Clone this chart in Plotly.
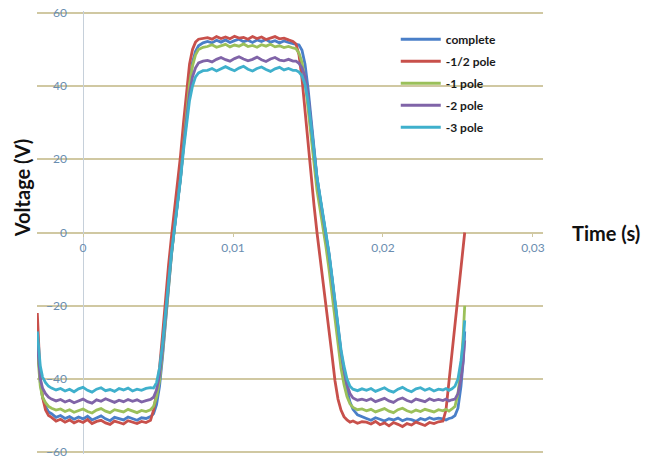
import plotly.graph_objects as go

# ---- data (time in ms, voltage in V) ----
TIME_MS = [
    -3.05, -2.95, -2.85, -2.7, -2.5, -2.3, -2.1, -1.8, -1.5, -1.2, -0.9, -0.6, -0.3, 0.0, 0.3,
    0.6, 0.9, 1.2, 1.5, 1.8, 2.1, 2.4, 2.7, 3.0, 3.3, 3.6, 3.9, 4.2, 4.5,
    4.7, 4.9, 5.1, 5.3, 5.5, 5.7, 5.9, 6.1, 6.3, 6.5, 6.7, 6.9, 7.1, 7.3, 7.5, 7.7, 8.0,
    8.3, 8.6, 8.9, 9.2, 9.5, 9.8, 10.1, 10.4, 10.7, 11.0, 11.3, 11.6, 11.9, 12.2, 12.5, 12.8,
    13.1, 13.4, 13.7, 14.0,
    14.2, 14.4, 14.6, 14.8, 15.0, 15.2, 15.4, 15.6, 15.8, 16.0, 16.2, 16.4, 16.6, 16.8, 17.0,
    17.2, 17.4, 17.6, 17.8, 18.0, 18.3, 18.6,
    18.9, 19.2, 19.5, 19.8, 20.1, 20.4, 20.7, 21.0, 21.3, 21.6, 21.9, 22.2, 22.5, 22.8, 23.1,
    23.4, 23.7,
    24.0, 24.2, 24.4, 24.6, 24.8, 25.0, 25.2, 25.35, 25.45,
]

COMPLETE = [
    -28, -36, -41, -45, -47.5, -49, -49.5, -50.5, -50, -50.8, -50.3, -51, -50.4, -50.9, -50.2,
    -51.2, -50.6, -50.1, -50.9, -51.4, -50.5, -50.8, -51.2, -50.4, -50.9, -51.3, -50.6, -50.8, -50.3,
    -49.5, -47, -42, -34, -24, -15, -6, 1.5, 8, 15, 24, 33, 41, 46.5, 49.5, 51, 51.8,
    52.2, 51.8, 52.5, 52.0, 52.6, 51.9, 52.4, 52.8, 52.1, 52.5, 51.9, 52.6, 52.2, 52.7, 52.0, 52.4,
    51.8, 52.3, 51.9, 51.6,
    51.6, 51.2, 49.8, 46, 39.5, 31, 22, 15, 9.5, 4.5, -0.5, -6, -12.5, -19.5, -26.5,
    -33, -38.5, -43, -46.3, -48.3, -49.8, -50.4,
    -50.8, -51.3, -50.6, -51.0, -51.5, -50.9, -51.2, -50.7, -51.4, -50.9, -51.1, -51.6, -50.8, -51.2, -50.6,
    -51.0, -50.7,
    -50.9, -51.2, -50.8, -50.6, -50.0, -48, -42, -35, -27,
]

HALF_POLE = [
    -22, -33, -40, -45, -48.5, -50, -50.5, -51.5, -51, -51.8, -51.2, -52, -51.4, -51.9, -51.1,
    -52.2, -51.6, -51.3, -52, -52.4, -51.5, -51.9, -52.3, -51.4, -51.8, -52.2, -51.6, -51.9, -51.3,
    -48.5, -44, -37, -28, -18, -9, -1, 6, 13, 21, 30, 39, 46, 50, 52, 52.8, 53,
    53.2, 52.8, 53.5, 53.0, 53.4, 52.9, 53.6, 53.1, 53.3, 52.8, 53.5, 53.0, 53.4, 52.7, 53.2, 53.5,
    52.9, 53.1, 52.6, 52.2,
    51.5, 48.5, 42, 33, 23.5, 15, 7.5, 0, -6.5, -13, -19, -26, -33.5, -40.5, -45.5,
    -48.5, -50.3, -51.2, -51.8, -51.5, -52.1, -51.7,
    -51.8, -52.3, -51.6, -52.5, -52.0, -52.8, -51.9, -52.4, -53.0, -52.2, -52.6, -51.8, -52.3, -52.7, -51.9,
    -52.2, -51.7,
    -51.5, -48.5, -40.5, -33, -25.5, -18, -10.5, -4.5, 0,
]

ONE_POLE = [
    -32, -38, -42, -45, -46.5, -47.5, -48, -48.5, -48.2, -48.9, -48.4, -49.1, -48.6, -48.2, -48.9,
    -49.3, -48.5, -48.1, -48.8, -49.2, -48.4, -48.7, -49.0, -48.3, -48.8, -49.2, -48.6, -48.9, -48.4,
    -47.5, -45, -40.5, -33, -23.5, -14.5, -6, 1.5, 8, 15, 24, 33, 40.5, 45.5, 48.5, 50, 50.6,
    50.8, 51.3, 50.6, 51.0, 51.4, 50.7, 51.2, 50.9, 51.5, 50.8, 51.1, 50.6, 51.3, 50.9, 51.4, 50.7,
    51.0, 50.5, 50.8, 50.4,
    50.2, 49, 46.5, 41.5, 34, 25.5, 17.5, 11.5, 6.5, 1.5, -4, -10, -17, -24, -31,
    -37, -41.5, -44.8, -46.8, -47.8, -48.4, -48.2,
    -48.7, -48.3, -49.0, -48.5, -48.1, -48.8, -49.2, -48.4, -48.0, -48.7, -49.1, -48.5, -48.9, -48.3, -48.6,
    -49.0, -48.4,
    -48.7, -48.3, -48.8, -48.2, -47.5, -44, -37, -28, -20,
]

TWO_POLE = [
    -30, -36, -40, -42.5, -44, -45, -45.5, -46, -45.6, -46.3, -45.8, -46.5, -45.9, -45.5, -46.2,
    -46.6, -45.7, -46.1, -45.4, -46.0, -46.4, -45.8, -46.2, -45.6, -46.1, -45.7, -46.3, -45.9, -45.6,
    -45, -43, -39, -32, -23, -14, -5.5, 1.5, 8, 15, 23.5, 31.5, 38, 42.5, 45, 46.3, 46.8,
    47.0, 46.6, 47.3, 47.8, 47.2, 46.8, 47.5, 48.0, 47.4, 46.9, 47.3, 47.9, 47.2, 46.7, 47.4, 47.8,
    47.1, 46.9, 47.3, 46.8,
    46.8, 46.2, 45, 42.5, 37.5, 30, 21.5, 14.8, 9.5, 4.5, -0.5, -6, -12.5, -19.5, -26.5,
    -32.5, -37.5, -41.5, -44, -45.2, -45.8, -45.5,
    -45.9, -45.4, -46.2, -45.7, -45.3, -46.0, -46.4, -45.6, -45.2, -45.9, -46.3, -45.5, -45.8, -46.2, -45.4,
    -45.9, -45.6,
    -45.9, -45.5, -46.0, -45.7, -45.5, -44, -40, -35, -29.5,
]

THREE_POLE = [
    -27, -33, -36.5, -39.5, -41, -42, -42.5, -43, -42.6, -43.3, -42.8, -43.5, -42.7, -42.3, -43.1,
    -43.6, -42.8, -42.4, -43.2, -42.9, -43.4, -42.6, -43.0, -42.5, -43.3, -42.8, -43.1, -42.6, -42.4,
    -42.5, -41, -37, -30.5, -22, -13.5, -5.5, 1, 7.5, 14.5, 22.5, 30, 36, 40, 42.5, 43.6, 44.2,
    44.3, 44.8, 44.1, 44.6, 45.3, 44.7, 44.2, 44.9, 45.4, 44.6, 44.1, 44.8, 45.2, 44.5, 44.0, 44.7,
    45.1, 44.4, 44.8, 44.3,
    44.3, 43.8, 42.8, 40.5, 36, 29.5, 21.5, 15, 10, 5, 0, -5.5, -12, -19, -26,
    -32, -36.5, -40, -42, -42.8, -43.2, -42.7,
    -43.1, -42.6, -43.4, -42.9, -42.4, -43.2, -43.6, -42.8, -42.3, -43.0, -43.5, -42.7, -42.4, -43.1, -42.6,
    -43.3, -42.8,
    -43.0, -42.6, -43.1, -42.7, -42, -40, -35, -30, -24,
]

SERIES_NAMES = ["complete", "-1/2 pole", "-1 pole", "-2 pole", "-3 pole"]
SERIES_VALUES = [COMPLETE, HALF_POLE, ONE_POLE, TWO_POLE, THREE_POLE]
SERIES_COLORS = ["#4a7fc8", "#c8504b", "#9bc05a", "#8064a8", "#3fb0cc"]

Y_TICKS = [-60, -40, -20, 0, 20, 40, 60]
X_TICKS = [0, 0.01, 0.02, 0.03]

for v in SERIES_VALUES:
    assert len(v) == len(TIME_MS), (len(v), len(TIME_MS))

TIME_S = [t / 1000.0 for t in TIME_MS]

fig = go.Figure()
for name, vals, col in zip(SERIES_NAMES, SERIES_VALUES, SERIES_COLORS):
    fig.add_trace(go.Scatter(
        x=TIME_S, y=vals, name=name, mode="lines",
        line=dict(color=col, width=2.8),
        legendgroup=name,
    ))

tick_font = dict(family="Lato, Open Sans, sans-serif", size=12, color="#6a8db0")

fig.update_layout(
    width=645, height=461,
    margin=dict(l=37, r=102, t=11, b=7, autoexpand=False),
    paper_bgcolor="white", plot_bgcolor="white",
    separators=",.",
    showlegend=True,
    legend=dict(
        x=0.709, y=0.969, xanchor="left", yanchor="top",
        font=dict(family="Lato, sans-serif", size=12, color="#1a1a1a", weight="bold"),
        bgcolor="rgba(0,0,0,0)",
        traceorder="grouped",
        tracegroupgap=3,
        itemwidth=40,
    ),
    xaxis=dict(
        range=[-0.00307, 0.03067],
        tickvals=X_TICKS,
        showgrid=False,
        zeroline=True, zerolinecolor="#c6d0da", zerolinewidth=1.2,
        showline=False,
        anchor="free", position=0.5,
        ticks="outside", ticklen=3, tickcolor="#cfc7a0",
        ticklabelstandoff=1,
        tickfont=tick_font,
        automargin=False,
    ),
    yaxis=dict(
        range=[-60.5, 60.5],
        tickvals=Y_TICKS,
        showgrid=True, gridcolor="#d0c8a2", gridwidth=1.5,
        zeroline=False, showline=False,
        ticks="",
        ticklabelstandoff=-31,
        ticklabeloverflow="allow",
        tickfont=tick_font,
        automargin=False,
    ),
    annotations=[
        dict(text="<b>Voltage (V)</b>", xref="paper", yref="paper",
             x=-0.0296, y=0.600, textangle=-90, showarrow=False,
             font=dict(family="Lato, sans-serif", size=20, color="#111111"),
             xanchor="center", yanchor="middle"),
        dict(text="<b>Time (s)</b>", xref="paper", yref="paper",
             x=1.0534, y=0.499, showarrow=False,
             font=dict(family="Lato, sans-serif", size=20, color="#111111"),
             xanchor="left", yanchor="middle"),
    ],
)

fig.write_html("out.html")
